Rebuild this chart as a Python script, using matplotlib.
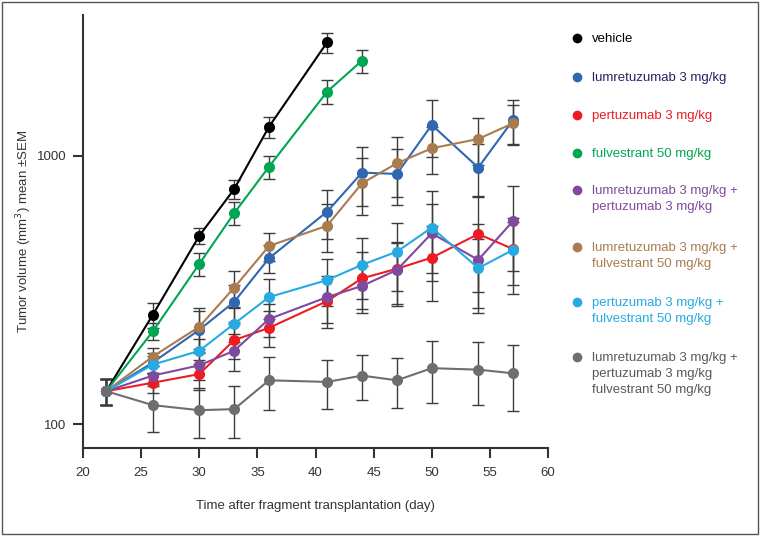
import matplotlib
matplotlib.use("Agg")
import matplotlib.pyplot as plt
from matplotlib.lines import Line2D
from matplotlib.patches import Rectangle

plt.rcParams['font.family'] = ['Liberation Sans', 'DejaVu Sans']

# --- datos ---
dias = [22, 26, 30, 33, 36, 41, 44, 47, 50, 54, 57]

vehicle = [133, 256, 504, 752, 1285, 2650]
vehicle_err = [15, 28, 35, 60, 115, 225]

lumre = [133, 170, 225, 286, 416, 620, 867, 857, 1305, 905, 1361]
lumre_err = [15, 14, 40, 45, 50, 130, 215, 200, 310, 200, 250]

pertu = [133, 143, 154, 206, 229, 288, 350, 380, 418, 512, 450]
pertu_err = [15, 12, 20, 30, 35, 60, 90, 100, 130, 200, 120]

fulve = [133, 222, 396, 612, 912, 1736, 2265]
fulve_err = [15, 16, 40, 60, 90, 175, 225]

lumre_pertu = [133, 152, 166, 188, 247, 298, 328, 376, 515, 410, 573]
lumre_pertu_err = [15, 13, 20, 30, 35, 60, 60, 100, 150, 150, 200]

lumre_fulve = [133, 179, 231, 323, 462, 550, 791, 939, 1068, 1157, 1324]
lumre_fulve_err = [15, 14, 40, 50, 55, 110, 190, 235, 210, 230, 230]

pertu_fulve = [133, 167, 188, 237, 298, 345, 393, 440, 541, 382, 447]
pertu_fulve_err = [15, 13, 20, 35, 50, 70, 100, 125, 200, 110, 140]

triple = [133, 118, 113, 114, 146, 144, 152, 146, 162, 160, 155]
triple_err = [15, 24, 24, 25, 33, 30, 29, 31, 42, 42, 43]

series = [
    ("vehicle", vehicle, vehicle_err, "#000000", "#000000"),
    ("lumretuzumab 3 mg/kg", lumre, lumre_err, "#2F67B1", "#262262"),
    ("pertuzumab 3 mg/kg", pertu, pertu_err, "#ED1C24", "#ED1C24"),
    ("fulvestrant 50 mg/kg", fulve, fulve_err, "#00A651", "#00A651"),
    ("lumretuzumab 3 mg/kg +\npertuzumab 3 mg/kg", lumre_pertu, lumre_pertu_err, "#7F4A9E", "#7F4A9E"),
    ("lumretuzumab 3 mg/kg +\nfulvestrant 50 mg/kg", lumre_fulve, lumre_fulve_err, "#A97C50", "#A97C50"),
    ("pertuzumab 3 mg/kg +\nfulvestrant 50 mg/kg", pertu_fulve, pertu_fulve_err, "#27AAE1", "#27AAE1"),
    ("lumretuzumab 3 mg/kg +\npertuzumab 3 mg/kg\nfulvestrant 50 mg/kg", triple, triple_err, "#6D6E71", "#58595B"),
]

fig = plt.figure(figsize=(7.6, 5.36), dpi=100)
ax = fig.add_axes([83 / 760, 1 - 448 / 536, 465 / 760, 433 / 536])

# barras de error primero, despues lineas y puntos
for nombre, vals, err, color, _ in series:
    x = dias[:len(vals)]
    ax.errorbar(x, vals, yerr=err, fmt='none', ecolor='#3C3C3C', elinewidth=1,
                capsize=4, capthick=1, zorder=1)
orden = [7, 2, 4, 6, 5, 1, 3, 0]
for i in orden:
    nombre, vals, err, color, _ = series[i]
    x = dias[:len(vals)]
    ax.plot(x, vals, '-o', color=color, lw=1.5, ms=8, mew=0, zorder=2 + i)

ax.set_yscale('log')
ax.set_ylim(81.7, 3350)
ax.set_xlim(20, 60)
ax.set_xticks(range(20, 61, 5))
ax.set_yticks([100, 1000])
ax.set_yticklabels(['100', '1000'])
ax.yaxis.set_minor_locator(matplotlib.ticker.NullLocator())

for lado in ['top', 'right']:
    ax.spines[lado].set_visible(False)
for lado in ['left', 'bottom']:
    ax.spines[lado].set_linewidth(1.5)
    ax.spines[lado].set_color('#333333')
ax.tick_params(axis='both', length=7, width=1.5, color='#333333',
               labelsize=9.5, labelcolor='#333333', pad=5)
ax.tick_params(axis='x', pad=7)

ax.set_xlabel('Time after fragment transplantation (day)', fontsize=9.5,
              color='#333333', labelpad=15)
ax.set_ylabel('Tumor volume (mm$^3$) mean ±SEM', fontsize=9.5,
              color='#333333', labelpad=2)

# leyenda manual a la derecha
y_pos = [38, 77, 115, 153, 190, 247, 302, 357]
for (nombre, _, _, color, tcolor), yp in zip(series, y_pos):
    fy = 1 - yp / 536
    fig.add_artist(Line2D([577 / 760], [fy], marker='o', color=color, ms=7, mew=0,
                          transform=fig.transFigure))
    fig.text(592 / 760, fy + 5 / 536, nombre, color=tcolor, fontsize=9.5,
             va='top', ha='left', linespacing=1.45)

# marco exterior
fig.add_artist(Rectangle((2 / 760, 2 / 536), 756 / 760, 532 / 536, fill=False,
                         edgecolor='#555555', lw=1, transform=fig.transFigure))

plt.savefig("out.png", dpi=100)
